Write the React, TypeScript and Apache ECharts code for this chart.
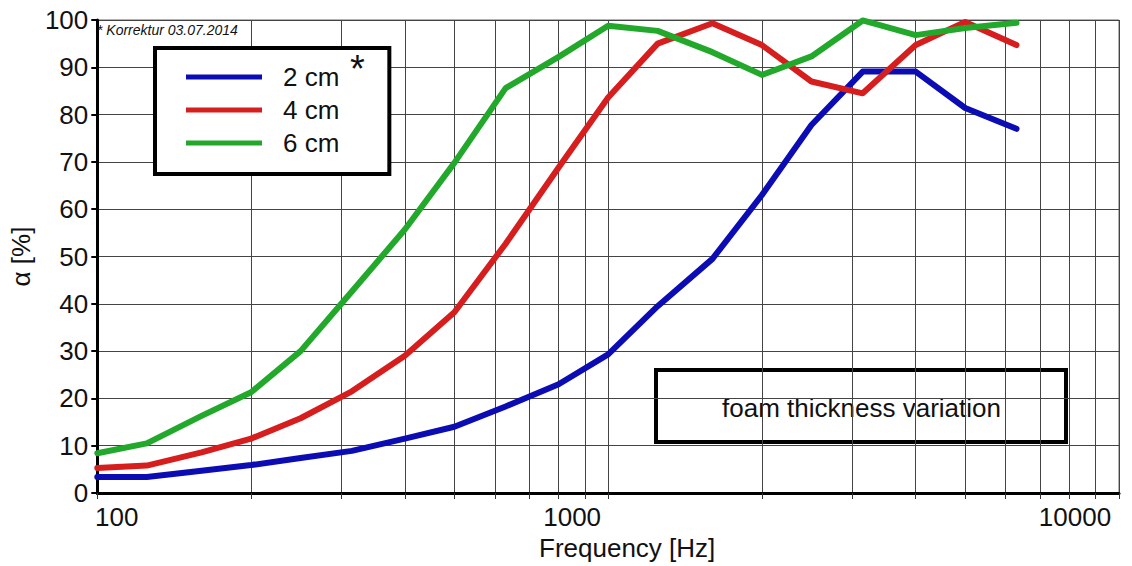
import React, { useEffect, useRef } from "react";
import * as echarts from "echarts";

const freqs = [100, 125, 160, 200, 250, 315, 400, 500, 630, 800, 1000, 1250, 1600, 2000, 2500, 3150, 4000, 5000, 6300];
const cm2 = [3.4, 3.4, 4.7, 5.9, 7.4, 8.9, 11.5, 14, 18.3, 23, 29.3, 39.5, 49.5, 63, 77.8, 89.1, 89.1, 81.4, 77];
const cm4 = [5.3, 5.8, 8.6, 11.5, 15.8, 21.5, 29, 38.2, 52.7, 68.8, 83.6, 95, 99.3, 94.7, 87, 84.5, 94.7, 99.6, 94.7];
const cm6 = [8.4, 10.5, 16.3, 21.3, 30, 42.6, 55.7, 69.8, 85.6, 92.2, 98.8, 97.7, 93.2, 88.4, 92.3, 99.9, 96.8, 98.3, 99.4];
const seriesNames = ["2 cm", "4 cm", "6 cm"];
const seriesColors = ["#0c0cb4", "#d61e1e", "#22a82a"];
const xTicks = [100, 200, 300, 400, 500, 600, 700, 800, 900, 1000, 2000, 3000, 4000, 5000, 6000, 7000, 8000, 9000, 10000];
const xLabels = [100, 1000, 10000];
const yTicks = { min: 0, max: 100, interval: 10 };
const noteText = "* Korrektur 03.07.2014";
const boxText = "foam thickness variation";
const xName = "Frequency [Hz]";
const yName = "α [%]";

const FONT = "'Liberation Sans', Arial, sans-serif";
const FS = 26;

export default function App() {
  const ref = useRef<HTMLDivElement>(null);
  useEffect(() => {
    document.body.style.margin = "0";
    const chart = echarts.init(ref.current!, null, { renderer: "svg" });
    const datasets = [cm2, cm4, cm6];
    const option: any = {
      animation: false,
      backgroundColor: "#ffffff",
      textStyle: { fontFamily: FONT },
      grid: {
        left: 94,
        right: 13,
        top: 20,
        bottom: 72,
        show: true,
        borderColor: "#666",
        borderWidth: 1,
      },
      legend: {
        data: seriesNames,
        orient: "vertical",
        left: 155,
        top: 48,
        icon: "rect",
        itemWidth: 76,
        itemHeight: 5,
        itemGap: 7,
        padding: [16, 50, 18, 31],
        borderColor: "#000",
        borderWidth: 4,
        backgroundColor: "#fff",
        borderRadius: 0,
        textStyle: { fontSize: FS, color: "#111", fontFamily: FONT, padding: [0, 0, 0, 16] },
      },
      xAxis: {
        type: "log",
        logBase: 10,
        min: 100,
        max: 10000,
        name: xName,
        nameLocation: "middle",
        nameGap: 42,
        nameTextStyle: { fontSize: FS, color: "#111", fontFamily: FONT, padding: [0, 0, 0, 38] },
        axisLine: { show: true, lineStyle: { color: "#000", width: 3 } },
        axisTick: { show: true, customValues: xTicks, length: 6, lineStyle: { color: "#333", width: 1 } },
        axisLabel: {
          customValues: xLabels,
          margin: 11,
          formatter: (v: number) => {
            const r = Math.round(v);
            if (r === 100) return "{a|100}";
            if (r === 1000) return "{b|1000}";
            return "{c|10000}";
          },
          rich: {
            a: { fontSize: FS, color: "#111", fontFamily: FONT, padding: [0, 0, 0, 39] },
            b: { fontSize: FS, color: "#111", fontFamily: FONT, padding: [0, 72, 0, 0] },
            c: { fontSize: FS, color: "#111", fontFamily: FONT, padding: [0, 88, 0, 0] },
          },
        },
        splitLine: { show: true, lineStyle: { color: "#444", width: 1 } },
      },
      yAxis: {
        type: "value",
        min: yTicks.min,
        max: yTicks.max,
        interval: yTicks.interval,
        name: yName,
        nameLocation: "middle",
        nameGap: 50,
        nameTextStyle: { fontSize: FS, color: "#111", fontFamily: FONT },
        axisLine: { show: true, lineStyle: { color: "#000", width: 3 } },
        axisTick: { show: true, length: 6, lineStyle: { color: "#000", width: 2 } },
        axisLabel: { fontSize: FS, color: "#111", fontFamily: FONT, margin: 9 },
        splitLine: { show: true, lineStyle: { color: "#444", width: 1 } },
      },
      graphic: [
        {
          type: "text",
          left: 97,
          top: 23,
          style: { text: noteText, fontSize: 14, fontStyle: "italic", fill: "#111", fontFamily: FONT },
          z: 100,
        },
        {
          type: "text",
          left: 350,
          top: 50,
          style: { text: "*", fontSize: 38, fill: "#111", fontFamily: FONT },
          z: 100,
        },
        {
          type: "group",
          left: 654,
          top: 368,
          z: 100,
          children: [
            {
              type: "rect",
              shape: { x: 1.5, y: 1.5, width: 410, height: 72 },
              style: { fill: "#fff", stroke: "#000", lineWidth: 4 },
            },
            {
              type: "text",
              x: 207,
              y: 39,
              style: {
                text: boxText,
                fontSize: FS,
                fill: "#111",
                fontFamily: FONT,
                align: "center",
                verticalAlign: "middle",
              },
            },
          ],
        },
      ],
      series: seriesNames.map((name, i) => ({
        name,
        type: "line",
        data: freqs.map((f, j) => [f, datasets[i][j]]),
        showSymbol: false,
        symbol: "none",
        lineStyle: { color: seriesColors[i], width: 6, join: "round", cap: "round" },
        itemStyle: { color: seriesColors[i] },
        z: 3 + i,
      })),
    };
    chart.setOption(option);
    return () => chart.dispose();
  }, []);
  return <div ref={ref} style={{ width: 1132, height: 566, position: "fixed", left: 0, top: 0 }} />;
}
